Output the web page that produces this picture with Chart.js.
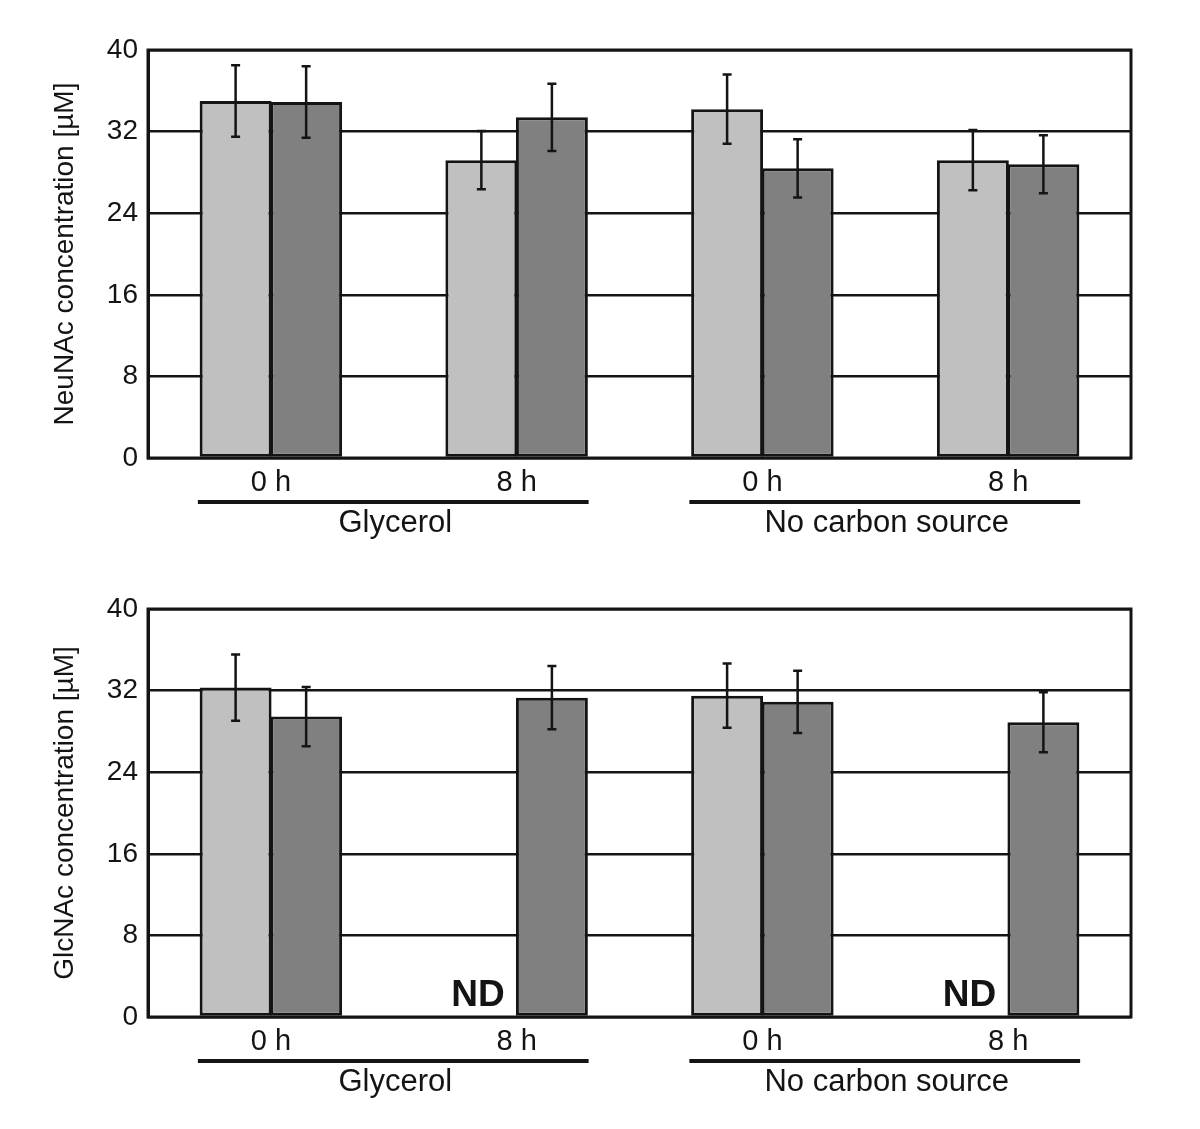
<!DOCTYPE html>
<html>
<head>
<meta charset="utf-8">
<script src="https://cdn.jsdelivr.net/npm/chart.js@4"></script>
<style>
  html, body { margin: 0; padding: 0; background: #fff; }
  #wrap { position: relative; width: 1200px; height: 1129px; }
  canvas { position: absolute; left: 0; }
</style>
</head>
<body>
<div id="wrap">
  <canvas id="graficoNeu" width="1200" height="560" style="top:0"></canvas>
  <canvas id="graficoGlc" width="1200" height="560" style="top:559px"></canvas>
</div>
<script>
// valores
const categorias = ['0 h', '8 h', '0 h', '8 h'];
const grupos = ['Glycerol', 'No carbon source'];
const gruposIndices = [[0, 1], [2, 3]];

const neuClaro = [35.0, 29.2, 34.2, 29.2];
const neuClaroErro = [3.5, 2.85, 3.4, 2.95];
const neuEscuro = [34.9, 33.4, 28.4, 28.8];
const neuEscuroErro = [3.5, 3.3, 2.85, 2.85];

const glcClaro = [32.3, null, 31.5, null];   // null = ND
const glcClaroErro = [3.25, null, 3.15, null];
const glcEscuro = [29.45, 31.3, 30.9, 28.9];
const glcEscuroErro = [2.9, 3.1, 3.05, 2.95];

const yMin = 0, yMax = 40, yPasso = 8;

const FONTE = 'Arial, "Liberation Sans", Helvetica, sans-serif';
const PRETO = '#141414';

const extras = {
    id: 'extras',
    afterDatasetsDraw(chart) {
        const ctx = chart.ctx;
        const y = chart.scales.y;
        const a = chart.chartArea;
        ctx.save();

        // barras de erro
        chart.data.datasets.forEach((ds, i) => {
            const meta = chart.getDatasetMeta(i);
            ds.erro.forEach((e, j) => {
                if (ds.data[j] == null || e == null) return;
                const bx = meta.data[j].x;
                const yt = y.getPixelForValue(ds.data[j] + e);
                const yb = y.getPixelForValue(ds.data[j] - e);
                ctx.strokeStyle = PRETO;
                ctx.lineWidth = 2.5;
                ctx.beginPath();
                ctx.moveTo(bx, yt); ctx.lineTo(bx, yb);
                ctx.moveTo(bx - 4.5, yt); ctx.lineTo(bx + 4.5, yt);
                ctx.moveTo(bx - 4.5, yb); ctx.lineTo(bx + 4.5, yb);
                ctx.stroke();
            });
        });

        // ND onde a serie clara nao foi detectada
        const meta1 = chart.getDatasetMeta(1);
        chart.data.datasets[0].data.forEach((v, j) => {
            if (v != null) return;
            const el = meta1.data[j];
            const cx = el.x - el.width;
            ctx.fillStyle = PRETO;
            ctx.font = 'bold 37px ' + FONTE;
            ctx.textAlign = 'center';
            ctx.textBaseline = 'alphabetic';
            ctx.fillText('ND', cx - 2, y.getPixelForValue(0) - 11);
        });

        // moldura
        ctx.strokeStyle = PRETO;
        ctx.lineWidth = 3;
        ctx.strokeRect(a.left, a.top, a.right - a.left, a.bottom - a.top);
        ctx.restore();
    },
    afterDraw(chart) {
        const ctx = chart.ctx;
        const x = chart.scales.x;
        const a = chart.chartArea;
        ctx.save();
        gruposIndices.forEach((idx, g) => {
            const x0 = x.getPixelForValue(idx[0]) - 73;
            const x1 = x.getPixelForValue(idx[1]) + 72;
            ctx.fillStyle = PRETO;
            ctx.fillRect(x0, a.bottom + 42, x1 - x0, 4);
            ctx.font = '31px ' + FONTE;
            ctx.textAlign = 'center';
            ctx.textBaseline = 'middle';
            ctx.fillText(grupos[g], (x0 + x1) / 2 + 2, a.bottom + 65);
        });
        ctx.restore();
    }
};

function criarGrafico(id, titulo, claro, claroErro, escuro, escuroErro) {
    const ctx = document.getElementById(id).getContext('2d');
    return new Chart(ctx, {
        type: 'bar',
        data: {
            labels: categorias,
            datasets: [{
                data: claro,
                erro: claroErro,
                backgroundColor: '#c0c0c0',
                borderColor: PRETO,
                borderWidth: 3,
                borderSkipped: false
            }, {
                data: escuro,
                erro: escuroErro,
                backgroundColor: '#808080',
                borderColor: PRETO,
                borderWidth: 3,
                borderSkipped: false
            }]
        },
        options: {
            responsive: false,
            animation: false,
            devicePixelRatio: 1,
            categoryPercentage: 0.574,
            barPercentage: 1.02,
            layout: { padding: { top: 50, right: 69, bottom: 0, left: 0 } },
            plugins: {
                legend: { display: false },
                tooltip: { enabled: false }
            },
            scales: {
                x: {
                    grid: { display: false, drawTicks: false },
                    border: { display: false },
                    ticks: {
                        color: PRETO,
                        font: { family: FONTE, size: 29 },
                        padding: 8,
                        maxRotation: 0,
                        autoSkip: false
                    },
                    afterFit(s) { s.height = 102; }
                },
                y: {
                    min: yMin,
                    max: yMax,
                    grid: { color: PRETO, lineWidth: 2.5, drawTicks: false },
                    border: { display: true, color: PRETO, width: 3 },
                    ticks: {
                        stepSize: yPasso,
                        color: PRETO,
                        font: { family: FONTE, size: 28 },
                        padding: 10
                    },
                    title: {
                        display: true,
                        text: titulo,
                        color: PRETO,
                        font: { family: FONTE, size: 28 },
                        padding: { top: 48, bottom: 0 }
                    },
                    afterFit(s) { s.width = 148; }
                }
            }
        },
        plugins: [extras]
    });
}

criarGrafico('graficoNeu', 'NeuNAc concentration [µM]', neuClaro, neuClaroErro, neuEscuro, neuEscuroErro);
criarGrafico('graficoGlc', 'GlcNAc concentration [µM]', glcClaro, glcClaroErro, glcEscuro, glcEscuroErro);
</script>
</body>
</html>
